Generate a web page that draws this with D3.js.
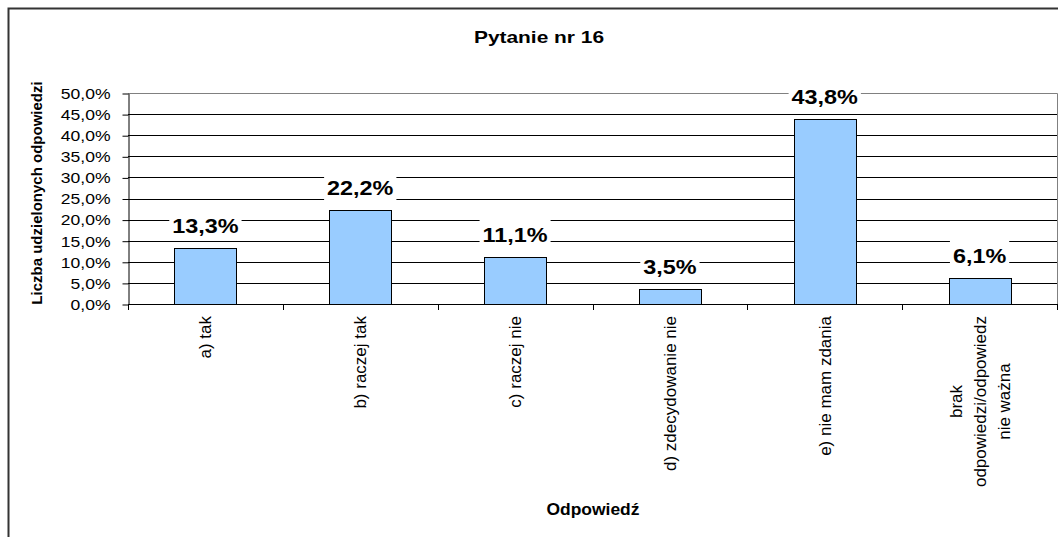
<!DOCTYPE html>
<html>
<head>
<meta charset="utf-8">
<script src="https://cdn.jsdelivr.net/npm/d3@7"></script>
<style>
  body { margin: 0; background: #fff; }
  text { font-family: "Liberation Sans", Arial, sans-serif; fill: #000; }
</style>
</head>
<body>
<div id="chart"></div>
<script>
// chart data
const categories = ["a) tak", "b) raczej tak", "c) raczej nie", "d) zdecydowanie nie", "e) nie mam zdania", "brak\nodpowiedzi/odpowiedz\nnie ważna"];
const values = [13.3, 22.2, 11.1, 3.5, 43.8, 6.1];
const yTicks = [0, 5, 10, 15, 20, 25, 30, 35, 40, 45, 50];

const width = 1058, height = 537;
const plot = { left: 128, right: 1057, top: 93, bottom: 304 };

const svg = d3.select("#chart").append("svg")
	.attr("width", width)
	.attr("height", height);

// outer chart border
svg.append("rect")
	.attr("x", 8.5).attr("y", 8.5)
	.attr("width", 1200).attr("height", 700)
	.attr("fill", "#fff")
	.attr("stroke", "#333")
	.attr("stroke-width", 2);

const x = d3.scaleBand()
	.domain(categories)
	.range([plot.left, plot.right])
	.paddingInner(0.6)
	.paddingOuter(0.3);

const y = d3.scaleLinear()
	.domain([0, 50])
	.range([plot.bottom, plot.top]);

const fmt = d => d.toFixed(1).replace(".", ",") + "%";

// gridlines
svg.append("g")
	.selectAll("line")
	.data(yTicks.filter(d => d > 0 && d < 50))
	.enter().append("line")
	.attr("x1", plot.left).attr("x2", plot.right)
	.attr("y1", d => Math.round(y(d)) + 0.5)
	.attr("y2", d => Math.round(y(d)) + 0.5)
	.attr("stroke", "#000");

// plot area border, top and right
svg.append("path")
	.attr("d", `M${plot.left},${plot.top + 0.5}H${plot.right + 0.5}V${plot.bottom}`)
	.attr("fill", "none")
	.attr("stroke", "#808080");

// bars
svg.append("g")
	.selectAll("rect")
	.data(values)
	.enter().append("rect")
	.attr("x", (d, i) => Math.round(x(categories[i])) + 0.5)
	.attr("y", d => Math.round(y(d)) + 0.5)
	.attr("width", Math.round(x.bandwidth()))
	.attr("height", d => Math.round(y(0)) - Math.round(y(d)))
	.attr("fill", "#99CCFF")
	.attr("stroke", "#000");

// y axis
const yAxis = svg.append("g")
	.attr("transform", `translate(${plot.left + 0.5},0.5)`)
	.call(d3.axisLeft(y).tickValues(yTicks).tickSize(6).tickSizeOuter(0).tickFormat(fmt));
yAxis.select(".domain").attr("stroke", "#000");
yAxis.selectAll(".tick line").attr("stroke", "#000");
yAxis.selectAll(".tick text")
	.attr("x", null)
	.attr("transform", "translate(-18,0) scale(1.17,1)")
	.style("font-size", "15px")
	.style("font-family", "'Liberation Sans', Arial, sans-serif");

// x axis: baseline and boundary ticks
const step = x.step();
const boundaries = d3.range(categories.length + 1).map(i => plot.left + i * step);
svg.append("line")
	.attr("x1", plot.left).attr("x2", plot.right + 1)
	.attr("y1", y(0) + 0.5).attr("y2", y(0) + 0.5)
	.attr("stroke", "#000");
svg.append("g")
	.selectAll("line")
	.data(boundaries)
	.enter().append("line")
	.attr("x1", d => Math.round(d) + 0.5).attr("x2", d => Math.round(d) + 0.5)
	.attr("y1", y(0)).attr("y2", y(0) + 6)
	.attr("stroke", "#000");

// category labels, rotated
const catG = svg.append("g")
	.selectAll("g")
	.data(categories)
	.enter().append("g")
	.attr("transform", d => `translate(${x(d) + x.bandwidth() / 2},316) rotate(-90)`);

catG.each(function(d) {
	const lines = d.split("\n");
	const t = d3.select(this).append("text")
		.attr("text-anchor", "middle")
		.style("font-size", "17px");
	const spans = lines.map((line, i) => t.append("tspan")
		.attr("y", (i - (lines.length - 1) / 2) * 24)
		.attr("dy", "0.35em")
		.text(line));
	const w = d3.max(spans, s => s.node().getComputedTextLength());
	spans.forEach(s => s.attr("x", -w / 2));
});

// value labels with white background (text is a bit wide in the original)
const lab = svg.append("g")
	.selectAll("g")
	.data(values)
	.enter().append("g")
	.attr("transform", (d, i) => `translate(${x(categories[i]) + x.bandwidth() / 2},${y(d) - 15}) scale(1.2,1)`);

lab.append("rect").attr("fill", "#fff");
lab.append("text")
	.attr("text-anchor", "middle")
	.style("font-size", "19.5px")
	.style("font-weight", "bold")
	.text(fmt);
lab.each(function() {
	const g = d3.select(this);
	const w = g.select("text").node().getComputedTextLength();
	g.select("rect")
		.attr("x", -w / 2 - 2.5).attr("y", -23)
		.attr("width", w + 5).attr("height", 28);
});

// titles
svg.append("text")
	.attr("transform", "translate(539,43) scale(1.23,1)")
	.attr("text-anchor", "middle")
	.style("font-size", "17px")
	.style("font-weight", "bold")
	.text("Pytanie nr 16");

svg.append("text")
	.attr("transform", "translate(593,515) scale(1.07,1)")
	.attr("text-anchor", "middle")
	.style("font-size", "16.3px")
	.style("font-weight", "bold")
	.text("Odpowiedź");

svg.append("text")
	.attr("transform", "translate(42,193) rotate(-90)")
	.attr("text-anchor", "middle")
	.style("font-size", "15px")
	.style("font-weight", "bold")
	.text("Liczba udzielonych odpowiedzi");
</script>
</body>
</html>
